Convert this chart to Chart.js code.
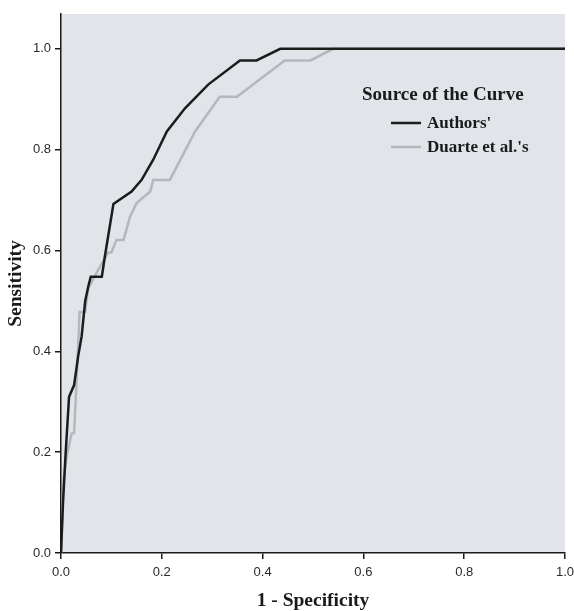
<!DOCTYPE html>
<html>
<head>
<meta charset="utf-8">
<script src="https://cdn.jsdelivr.net/npm/chart.js@4"></script>
<style>
  html, body { margin: 0; padding: 0; background: #fff; }
  #wrap { width: 574px; height: 611px; }
</style>
</head>
<body>
<div id="wrap"><canvas id="rocChart" width="574" height="611"></canvas></div>
<script>
// ROC curves (1 - specificity, sensitivity)
const seriesNames = ["Authors'", "Duarte et al.'s"];
const legendTitle = 'Source of the Curve';

const authorsFpr = [0, 0.004, 0.009, 0.016, 0.026, 0.034, 0.041, 0.048, 0.054, 0.059, 0.081, 0.087, 0.104, 0.140, 0.160, 0.183, 0.210, 0.246, 0.292, 0.355, 0.388, 0.435, 1.0];
const authorsTpr = [0, 0.100, 0.194, 0.310, 0.333, 0.390, 0.430, 0.500, 0.528, 0.548, 0.548, 0.588, 0.692, 0.717, 0.740, 0.780, 0.836, 0.882, 0.929, 0.977, 0.977, 1.0, 1.0];

const duarteFpr = [0, 0.005, 0.011, 0.021, 0.026, 0.031, 0.037, 0.048, 0.054, 0.074, 0.094, 0.100, 0.110, 0.124, 0.137, 0.150, 0.177, 0.183, 0.216, 0.266, 0.315, 0.349, 0.444, 0.495, 0.540, 1.0];
const duarteTpr = [0, 0.145, 0.190, 0.237, 0.238, 0.343, 0.478, 0.478, 0.525, 0.562, 0.596, 0.596, 0.621, 0.621, 0.667, 0.694, 0.717, 0.740, 0.740, 0.836, 0.905, 0.905, 0.977, 0.977, 1.0, 1.0];

const tickValues = [0, 0.2, 0.4, 0.6, 0.8, 1.0];

const lineColors = ['#1c1c1c', '#b4b8bd'];

function toPoints(xs, ys) {
    return xs.map((x, i) => ({ x: x, y: ys[i] }));
}

// grey plot background
const plotBg = {
    id: 'plotBg',
    beforeDraw(chart) {
        const { ctx, chartArea: a } = chart;
        ctx.save();
        ctx.fillStyle = '#e1e4e9';
        ctx.fillRect(a.left, a.top, a.right - a.left, a.bottom - a.top);
        ctx.restore();
    }
};

// legend box inside the plot, like the SPSS output
const curveLegend = {
    id: 'curveLegend',
    afterDraw(chart) {
        const ctx = chart.ctx;
        ctx.save();
        ctx.fillStyle = '#1a1a1a';
        ctx.textBaseline = 'middle';
        ctx.textAlign = 'left';
        ctx.font = 'bold 19px "Liberation Serif", "Times New Roman", serif';
        ctx.fillText(legendTitle, 362, 95);

        ctx.font = 'bold 17px "Liberation Serif", "Times New Roman", serif';
        const rows = [123, 147];
        chart.data.datasets.forEach((ds, i) => {
            ctx.strokeStyle = ds.borderColor;
            ctx.lineWidth = 2.5;
            ctx.beginPath();
            ctx.moveTo(391, rows[i]);
            ctx.lineTo(421, rows[i]);
            ctx.stroke();
            ctx.fillStyle = '#1a1a1a';
            ctx.fillText(ds.label, 427, rows[i] + 1);
        });
        ctx.restore();
    }
};

const ctx = document.getElementById('rocChart').getContext('2d');

new Chart(ctx, {
    type: 'line',
    data: {
        datasets: [
            {
                label: seriesNames[0],
                data: toPoints(authorsFpr, authorsTpr),
                borderColor: lineColors[0],
                borderWidth: 2.5,
                pointRadius: 0,
                tension: 0
            },
            {
                label: seriesNames[1],
                data: toPoints(duarteFpr, duarteTpr),
                borderColor: lineColors[1],
                borderWidth: 2.5,
                pointRadius: 0,
                tension: 0
            }
        ]
    },
    options: {
        responsive: false,
        animation: false,
        layout: { padding: { top: 14, right: 9, left: 0, bottom: 0 } },
        plugins: {
            legend: { display: false },
            tooltip: { enabled: false }
        },
        scales: {
            x: {
                type: 'linear',
                min: 0,
                max: 1,
                afterBuildTicks: (s) => { s.ticks = tickValues.map(v => ({ value: v })); },
                afterFit: (s) => { s.height = 58; s.paddingLeft = 0; s.paddingRight = 0; },
                grid: {
                    drawOnChartArea: false,
                    drawTicks: true,
                    tickLength: 6,
                    color: '#1a1a1a',
                    lineWidth: 1.5
                },
                border: { display: true, color: '#1a1a1a', width: 1.5 },
                ticks: {
                    padding: 6,
                    color: '#2a2a2a',
                    font: { family: '"Liberation Sans", Arial, sans-serif', size: 13 },
                    callback: (v) => Number(v).toFixed(1)
                },
                title: {
                    display: true,
                    text: '1 - Specificity',
                    color: '#1a1a1a',
                    padding: { top: 0, bottom: -2 },
                    font: { family: '"Liberation Serif", "Times New Roman", serif', size: 19.5, weight: 'bold' }
                }
            },
            y: {
                type: 'linear',
                min: 0,
                max: 1.069,
                afterBuildTicks: (s) => { s.ticks = tickValues.map(v => ({ value: v })); },
                afterFit: (s) => { s.width = 61; s.paddingTop = 0; s.paddingBottom = 0; },
                grid: {
                    drawOnChartArea: false,
                    drawTicks: true,
                    tickLength: 6,
                    color: '#1a1a1a',
                    lineWidth: 1.5
                },
                border: { display: true, color: '#1a1a1a', width: 1.5 },
                ticks: {
                    padding: 4,
                    color: '#2a2a2a',
                    font: { family: '"Liberation Sans", Arial, sans-serif', size: 13 },
                    callback: (v) => Number(v).toFixed(1)
                },
                title: {
                    display: true,
                    text: 'Sensitivity',
                    color: '#1a1a1a',
                    padding: { top: 4, bottom: 0 },
                    font: { family: '"Liberation Serif", "Times New Roman", serif', size: 19.5, weight: 'bold' }
                }
            }
        }
    },
    plugins: [plotBg, curveLegend]
});
</script>
</body>
</html>
